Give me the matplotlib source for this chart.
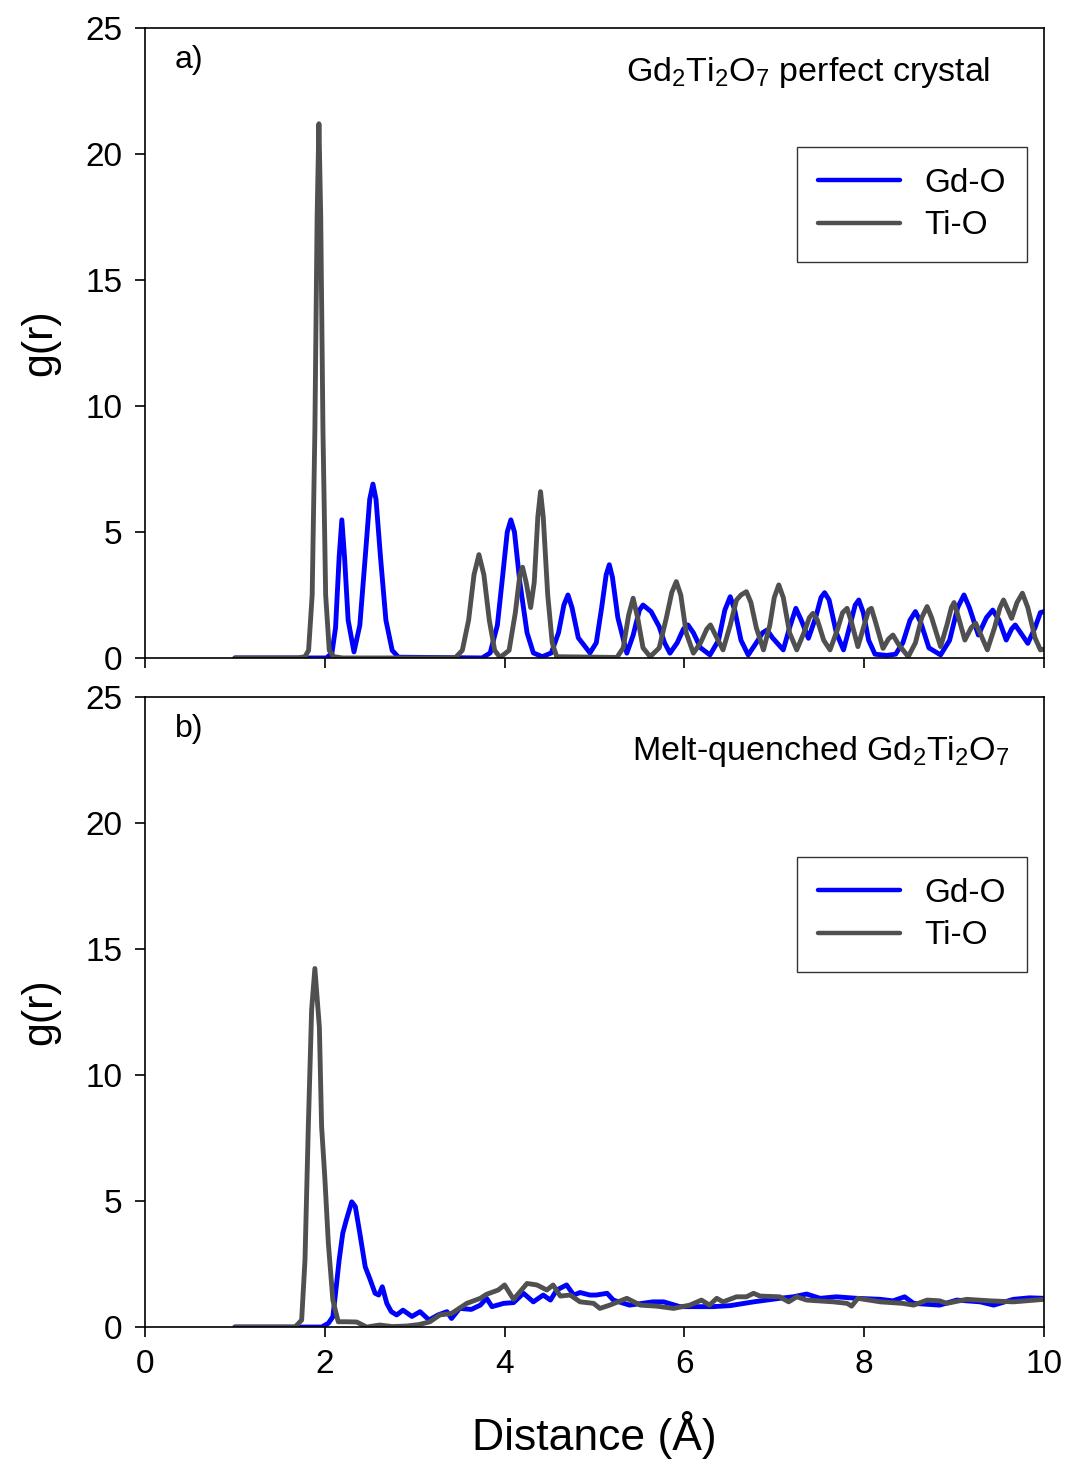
import matplotlib
matplotlib.use("Agg")
import matplotlib.pyplot as plt

plt.rcParams['font.family'] = ['Liberation Sans', 'DejaVu Sans']
plt.rcParams['mathtext.default'] = 'regular'

# ---- (a) perfect crystal: pair distribution functions ----
r_tio_a = [1.00, 1.70, 1.78, 1.82, 1.86, 1.89, 1.915, 1.935, 1.955, 1.98, 2.01, 2.05, 2.10, 2.20,
           3.45, 3.53, 3.60, 3.66, 3.715, 3.77, 3.83, 3.89, 3.95, 4.05, 4.12, 4.17, 4.20, 4.24,
           4.29, 4.33, 4.37, 4.40, 4.43, 4.48, 4.53, 4.58, 5.25, 5.32, 5.38, 5.43, 5.48, 5.54,
           5.62, 5.72, 5.80, 5.86, 5.91, 5.96, 6.02, 6.10, 6.18, 6.25, 6.29, 6.34, 6.43, 6.51,
           6.58, 6.63, 6.69, 6.74, 6.80, 6.88, 6.95, 7.00, 7.05, 7.10, 7.17, 7.25, 7.33, 7.39,
           7.43, 7.48, 7.55, 7.62, 7.70, 7.76, 7.81, 7.86, 7.93, 8.00, 8.05, 8.08, 8.12, 8.21,
           8.27, 8.32, 8.38, 8.49, 8.57, 8.64, 8.70, 8.75, 8.85, 8.92, 8.97, 9.00, 9.05, 9.12,
           9.19, 9.24, 9.30, 9.37, 9.45, 9.51, 9.55, 9.60, 9.64, 9.70, 9.76, 9.82, 9.90, 9.96,
           10.00]
g_tio_a = [0, 0, 0.05, 0.3, 2.5, 9.0, 17.5, 21.2, 17.5, 9.0, 2.5, 0.3, 0.05, 0,
           0, 0.3, 1.5, 3.3, 4.1, 3.3, 1.5, 0.3, 0.02, 0.3, 1.8, 3.3, 3.6, 3.0,
           2.0, 3.0, 5.6, 6.6, 5.6, 2.5, 0.6, 0.05, 0.02, 0.4, 1.7, 2.37, 1.6, 0.4,
           0.05, 0.4, 1.6, 2.6, 3.03, 2.5, 1.0, 0.19, 0.6, 1.15, 1.31, 0.95, 0.32, 1.3,
           2.3, 2.5, 2.63, 2.2, 1.2, 0.32, 1.3, 2.4, 2.9, 2.4, 1.0, 0.32, 1.0, 1.6,
           1.77, 1.5, 0.7, 0.32, 1.1, 1.8, 1.97, 1.4, 0.45, 1.3, 1.9, 1.97, 1.5, 0.38,
           0.75, 0.91, 0.55, 0.05, 0.6, 1.6, 2.04, 1.6, 0.45, 1.3, 2.0, 2.2, 1.6, 0.71,
           1.2, 1.38, 0.9, 0.32, 1.2, 2.0, 2.3, 1.9, 1.57, 2.2, 2.57, 2.0, 0.8, 0.32,
           0.35]

r_gdo_a = [1.00, 2.02, 2.08, 2.12, 2.16, 2.19, 2.22, 2.26, 2.325, 2.39, 2.45, 2.50, 2.536, 2.57,
           2.62, 2.68, 2.75, 2.82, 3.75, 3.84, 3.92, 3.98, 4.03, 4.07, 4.11, 4.17, 4.25, 4.32,
           4.42, 4.52, 4.60, 4.66, 4.705, 4.75, 4.82, 4.95, 5.02, 5.08, 5.13, 5.165, 5.20, 5.26,
           5.36, 5.43, 5.50, 5.54, 5.63, 5.72, 5.78, 5.84, 5.92, 5.99, 6.04, 6.10, 6.18, 6.285,
           6.38, 6.45, 6.51, 6.56, 6.63, 6.71, 6.80, 6.87, 6.92, 6.98, 7.10, 7.17, 7.24, 7.30,
           7.38, 7.46, 7.52, 7.56, 7.61, 7.69, 7.77, 7.85, 7.90, 7.94, 7.99, 8.05, 8.12, 8.25,
           8.35, 8.43, 8.51, 8.57, 8.63, 8.72, 8.85, 8.95, 9.04, 9.11, 9.17, 9.27, 9.36, 9.43,
           9.50, 9.58, 9.64, 9.68, 9.74, 9.82, 9.90, 9.96, 10.00]
g_gdo_a = [0, 0, 0.2, 1.2, 4.0, 5.48, 4.0, 1.5, 0.24, 1.3, 4.0, 6.3, 6.9, 6.3,
           4.0, 1.5, 0.3, 0.03, 0, 0.2, 1.3, 3.3, 5.0, 5.48, 5.0, 3.0, 1.0, 0.2,
           0.05, 0.2, 1.0, 2.1, 2.5, 2.0, 0.8, 0.2, 0.6, 2.0, 3.3, 3.7, 3.2, 1.6,
           0.19, 0.9, 1.9, 2.1, 1.84, 1.24, 0.6, 0.19, 0.6, 1.15, 1.31, 1.0, 0.4, 0.12,
           0.7, 1.9, 2.43, 1.9, 0.7, 0.12, 0.6, 1.0, 1.11, 0.8, 0.32, 1.2, 1.97, 1.5,
           0.78, 1.6, 2.4, 2.59, 2.3, 1.0, 0.32, 1.4, 2.1, 2.3, 1.8, 0.7, 0.15, 0.1,
           0.15, 0.6, 1.5, 1.84, 1.4, 0.4, 0.12, 0.7, 2.0, 2.5, 2.0, 0.91, 1.6, 1.9,
           1.5, 0.71, 1.15, 1.31, 1.0, 0.58, 1.2, 1.8, 1.84]

# ---- (b) melt-quenched glass ----
r_tio_b = [1.00, 1.67, 1.743, 1.78, 1.817, 1.854, 1.89, 1.94, 1.965, 2.00, 2.04, 2.09, 2.15,
           2.24, 2.355, 2.466, 2.61, 2.75, 2.91, 3.05, 3.17, 3.28, 3.41, 3.58, 3.73, 3.80,
           3.93, 4.00, 4.10, 4.25, 4.36, 4.47, 4.54, 4.62, 4.73, 4.84, 4.99, 5.06, 5.17,
           5.36, 5.51, 5.69, 5.88, 6.06, 6.19, 6.28, 6.36, 6.43, 6.58, 6.69, 6.77, 6.84,
           7.06, 7.16, 7.25, 7.36, 7.66, 7.81, 7.86, 7.93, 8.18, 8.43, 8.55, 8.70, 8.84,
           8.92, 9.14, 9.40, 9.66, 10.00]
g_tio_b = [0, 0, 0.28, 2.66, 7.95, 12.6, 14.23, 11.9, 7.95, 5.97, 3.32, 1.07, 0.21,
           0.21, 0.2, 0.0, 0.08, 0.02, 0.04, 0.1, 0.21, 0.48, 0.54, 0.94, 1.14, 1.30,
           1.47, 1.67, 1.1, 1.73, 1.67, 1.47, 1.67, 1.23, 1.27, 1.0, 0.94, 0.74, 0.87,
           1.14, 0.87, 0.83, 0.74, 0.87, 1.07, 0.87, 1.14, 1.0, 1.2, 1.2, 1.34, 1.23,
           1.2, 1.0, 1.2, 1.07, 1.0, 0.94, 0.83, 1.14, 1.0, 0.94, 0.87, 1.07, 1.04,
           0.94, 1.10, 1.04, 1.0, 1.10]

r_gdo_b = [1.00, 1.965, 2.04, 2.09, 2.12, 2.16, 2.20, 2.24, 2.30, 2.34, 2.39, 2.45, 2.50,
           2.56, 2.60, 2.64, 2.69, 2.74, 2.80, 2.87, 2.97, 3.06, 3.16, 3.26, 3.36, 3.41,
           3.50, 3.63, 3.73, 3.80, 3.86, 3.99, 4.10, 4.21, 4.32, 4.43, 4.51, 4.58, 4.69,
           4.77, 4.84, 4.95, 5.02, 5.14, 5.21, 5.39, 5.65, 5.77, 5.95, 6.14, 6.32, 6.51,
           6.77, 7.06, 7.21, 7.36, 7.51, 7.69, 7.92, 8.18, 8.32, 8.45, 8.55, 8.84, 9.03,
           9.29, 9.44, 9.66, 9.84, 10.00]
g_gdo_b = [0, 0, 0.15, 0.41, 1.34, 2.66, 3.72, 4.25, 4.97, 4.78, 3.72, 2.39, 1.93,
           1.34, 1.27, 1.6, 0.94, 0.61, 0.48, 0.67, 0.42, 0.61, 0.28, 0.48, 0.61, 0.34,
           0.74, 0.70, 0.87, 1.14, 0.81, 0.94, 0.97, 1.34, 1.0, 1.27, 1.07, 1.47, 1.67,
           1.27, 1.37, 1.27, 1.27, 1.34, 1.07, 0.87, 1.0, 1.0, 0.81, 0.81, 0.81, 0.85,
           1.0, 1.14, 1.2, 1.31, 1.14, 1.2, 1.14, 1.1, 1.04, 1.2, 0.94, 0.87, 1.07,
           1.0, 0.87, 1.10, 1.16, 1.14]

BLUE = '#0000FF'
GRAY = '#505050'
LW = 3.5

fig = plt.figure(figsize=(10.69, 14.67), dpi=100)
ax_a = fig.add_axes([0.1356, 0.5515, 0.841, 0.4294])
ax_b = fig.add_axes([0.1356, 0.0954, 0.841, 0.4294])

panels = [
    (ax_a, r_gdo_a, g_gdo_a, r_tio_a, g_tio_a, 'a)',
     'Gd$_2$Ti$_2$O$_7$ perfect crystal', 0.94, 0.929, 0.811),
    (ax_b, r_gdo_b, g_gdo_b, r_tio_b, g_tio_b, 'b)',
     'Melt-quenched Gd$_2$Ti$_2$O$_7$', 0.962, 0.913, 0.746),
]

for ax, rg, gg, rt, gt, tag, title, tx, ty, ly in panels:
    ax.plot(rg, gg, color=BLUE, lw=LW, label='Gd-O',
            solid_joinstyle='round', solid_capstyle='round')
    ax.plot(rt, gt, color=GRAY, lw=LW, label='Ti-O',
            solid_joinstyle='round', solid_capstyle='round')
    ax.set_xlim(0, 10)
    ax.set_ylim(0, 25)
    ax.set_xticks([0, 2, 4, 6, 8, 10])
    ax.set_yticks([0, 5, 10, 15, 20, 25])
    ax.tick_params(direction='out', length=7, width=1.2, labelsize=24, pad=9)
    for s in ax.spines.values():
        s.set_linewidth(1.2)
    ax.set_ylabel('g(r)', fontsize=31, labelpad=18)
    ax.text(0.033, 0.949, tag, transform=ax.transAxes, fontsize=23,
            ha='left', va='center')
    ax.text(tx, ty, title, transform=ax.transAxes, fontsize=24.5,
            ha='right', va='center')
    leg = ax.legend(loc='upper right', bbox_to_anchor=(0.981, ly), fontsize=24,
                    frameon=True, fancybox=False, handlelength=2.45,
                    handletextpad=0.75, borderpad=0.62, labelspacing=0.35,
                    borderaxespad=0)
    leg.get_frame().set_edgecolor('black')
    leg.get_frame().set_linewidth(1.0)
    for h in leg.get_lines():
        h.set_linewidth(3.2)

ax_a.tick_params(labelbottom=False)
ax_b.set_xlabel('Distance (Å)', fontsize=32, labelpad=22)

fig.savefig('out.png', dpi=100)
